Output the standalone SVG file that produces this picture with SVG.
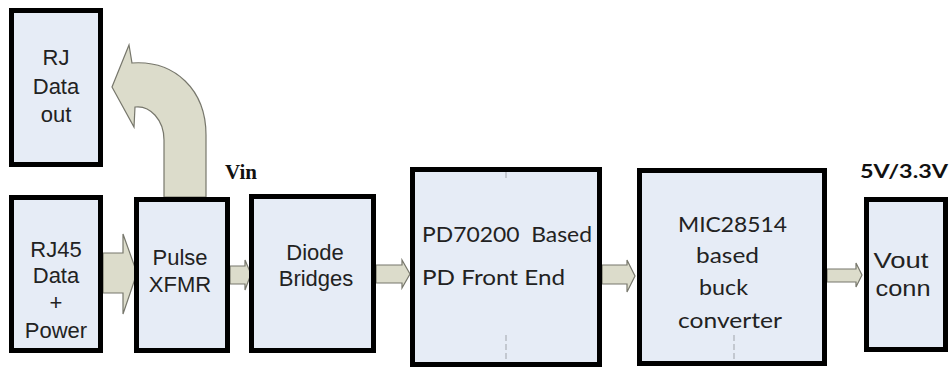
<svg xmlns="http://www.w3.org/2000/svg" width="949" height="368" viewBox="0 0 949 368">
<style>
.box{fill:#e6ecf6;stroke:#000;stroke-width:5}
.arr{fill:#dcdccb;stroke:#77776c;stroke-width:1.2;stroke-linejoin:miter}
.t{font-family:"Liberation Sans",Arial,sans-serif;font-size:22px;fill:#222;text-anchor:middle}
.c{font-family:Lato,"Open Sans",sans-serif;font-size:22px;fill:#222}
.lbl{font-family:"Liberation Serif","Times New Roman",serif;font-size:21px;font-weight:bold;fill:#111}
.lbl2{font-family:Lato,"Open Sans",sans-serif;font-size:19px;font-weight:bold;fill:#111}
.dash{stroke:#b8bcc4;stroke-width:1.5;stroke-dasharray:6 3;fill:none}
</style>
<rect width="949" height="368" fill="#fff"/>
<g id="connectors">
<path class="arr" d="M206,197 L206,135 C206,90 175,60 132,63 L129,45 L112,87 L134,127 L135,107 C150,105 164,120 164,140 L164,197 Z"/>
<path class="arr" d="M103,253 L123,253 L123,234 L137,273 L123,314 L123,293 L103,293 Z"/>
<path class="arr" d="M230,266 L245,266 L245,260 L251,274 L245,290 L245,284 L230,284 Z"/>
<path class="arr" d="M376,265 L402,265 L402,260 L410,274 L402,288 L402,283 L376,283 Z"/>
<path class="arr" d="M602,265 L627,265 L627,260 L635,276 L627,292 L627,284 L602,284 Z"/>
<path class="arr" d="M827,269 L856,269 L856,263 L862,275 L856,287 L856,282 L827,282 Z"/>
</g>
<g id="rj-out">
<rect class="box" x="11.5" y="10.5" width="89" height="154"/>
<text class="t" x="56" y="65">RJ</text>
<text class="t" x="56" y="94">Data</text>
<text class="t" x="56" y="122">out</text>
</g>
<g id="rj45">
<rect class="box" x="11.5" y="197.5" width="89" height="153"/>
<text class="t" x="56" y="257">RJ45</text>
<text class="t" x="56" y="283">Data</text>
<text class="t" x="56" y="310">+</text>
<text class="t" x="56" y="338">Power</text>
</g>
<g id="pulse">
<rect class="box" x="136.5" y="199.5" width="91" height="151"/>
<text class="t" x="180" y="265">Pulse</text>
<text class="t" x="180" y="292">XFMR</text>
</g>
<text class="lbl" x="225" y="179">Vin</text>
<g id="diode">
<rect class="box" x="251.5" y="196.5" width="122" height="154"/>
<text class="t" x="315" y="260">Diode</text>
<text class="t" x="316" y="286">Bridges</text>
</g>
<g id="pd">
<rect class="box" x="412.5" y="169.5" width="187" height="195"/>
<line class="dash" x1="506" y1="172" x2="506" y2="180"/>
<line class="dash" x1="506" y1="335" x2="506" y2="362"/>
<text class="c" x="422" y="242" textLength="170" lengthAdjust="spacingAndGlyphs" xml:space="preserve">PD70200  Based</text>
<text class="c" x="422" y="285" textLength="143" lengthAdjust="spacingAndGlyphs">PD Front End</text>
</g>
<g id="mic">
<rect class="box" x="639.5" y="170.5" width="185" height="193"/>
<line class="dash" x1="734" y1="335" x2="734" y2="361"/>
<text class="c" x="678" y="232" textLength="109" lengthAdjust="spacingAndGlyphs">MIC28514</text>
<text class="c" x="696" y="263" textLength="63" lengthAdjust="spacingAndGlyphs">based</text>
<text class="c" x="699" y="295" textLength="49" lengthAdjust="spacingAndGlyphs">buck</text>
<text class="c" x="678" y="328" textLength="104" lengthAdjust="spacingAndGlyphs">converter</text>
</g>
<text class="lbl2" x="860" y="178" textLength="88" lengthAdjust="spacingAndGlyphs">5V/3.3V</text>
<g id="vout">
<rect class="box" x="866.5" y="199.5" width="79" height="150"/>
<text class="t" x="901" y="268" textLength="55" lengthAdjust="spacingAndGlyphs">Vout</text>
<text class="t" x="903" y="296" textLength="55" lengthAdjust="spacingAndGlyphs">conn</text>
</g>
</svg>
